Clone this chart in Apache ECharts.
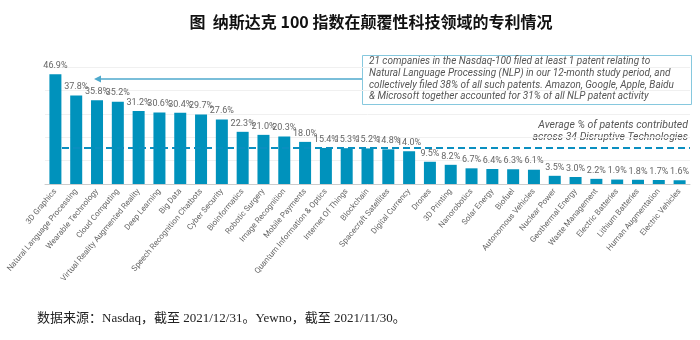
<!DOCTYPE html>
<html><head><meta charset="utf-8">
<script src="https://cdn.jsdelivr.net/npm/echarts@6/dist/echarts.min.js"></script>
<style>html,body{margin:0;padding:0;background:#fff}#c{width:700px;height:340px}</style>
</head><body><div id="c"></div>
<script>
const categories = ["3D Graphics","Natural Language Processing","Wearable Technology","Cloud Computing","Virtual Reality Augmented Reality","Deep Learning","Big Data","Speech Recognition Chatbots","Cyber Security","Bioinformatics","Robotic Surgery","Image Recognition","Mobile Payments","Quantum Information & Optics","Internet Of Things","Blockchain","Spacecraft Satellites","Digital Currency","Drones","3D Printing","Nanorobotics","Solar Energy","Biofuel","Autonomous Vehicles","Nuclear Power","Geothermal Energy","Waste Management","Electric Batteries","Lithium Batteries","Human Augmentation","Electric Vehicles"];
const values = [46.9,37.8,35.8,35.2,31.2,30.6,30.4,29.7,27.6,22.3,21.0,20.3,18.0,15.4,15.3,15.2,14.8,14.0,9.5,8.2,6.7,6.4,6.3,6.1,3.5,3.0,2.2,1.9,1.8,1.7,1.6];
const averageValue = 15.3;
const titleText = "图  纳斯达克 100 指数在颠覆性科技领域的专利情况";
const sourceText = "数据来源：Nasdaq，截至 2021/12/31。Yewno，截至 2021/11/30。";
const noteLines = ["21 companies in the Nasdaq-100 filed at least 1 patent relating to","Natural Language Processing (NLP) in our 12-month study period, and","collectively filed 38% of all such patents. Amazon, Google, Apple, Baidu","& Microsoft together accounted for 31% of all NLP patent activity"];
const avgLines = ["Average % of patents contributed","across 34 Disruptive Technologies"];

const chart = echarts.init(document.getElementById('c'), null, {renderer:'canvas'});
const sans = "Roboto, 'Noto Sans', sans-serif";
chart.setOption({
  animation:false,
  grid:{left:45,right:10,top:67,bottom:156,containLabel:false},
  xAxis:{type:'category',data:categories,
    axisLine:{lineStyle:{color:'#cccccc'}},axisTick:{show:false},
    axisLabel:{interval:0,rotate:50,fontSize:8,color:'#666',fontFamily:sans,margin:6}},
  yAxis:{type:'value',min:0,max:50,interval:10,
    axisLabel:{show:false},axisLine:{show:false},axisTick:{show:false},
    splitLine:{lineStyle:{color:'#f0f0f0'}}},
  series:[{type:'bar',data:values,barWidth:12,
    itemStyle:{color:'#0092bc'},
    label:{show:true,position:'top',distance:4,fontSize:9,color:'#666',fontFamily:sans,formatter:p=>p.value.toFixed(1)+'%'},
    markLine:{silent:true,symbol:'none',label:{show:false},
      lineStyle:{color:'#0a8fc0',type:[7,4],width:2},
      data:[[{x:62,yAxis:averageValue},{x:690,yAxis:averageValue}]]}
  }],
  graphic:[
    {type:'text',x:371,y:14,style:{text:titleText,font:"bold 16px 'Noto Sans CJK SC'",fill:'#111',textAlign:'center'}},
    {type:'rect',shape:{x:362.5,y:55.5,width:329,height:49},style:{fill:'#fff',stroke:'#86c8de',lineWidth:1}},
    {type:'text',x:369,y:56,style:{text:noteLines.join('\n'),font:"italic 10px "+sans,fill:'#555',lineHeight:11.7}},
    {type:'line',shape:{x1:99,y1:79,x2:362,y2:79},style:{stroke:'#4ea9cc',lineWidth:1.5}},
    {type:'polygon',shape:{points:[[94,79],[101,75.5],[101,82.5]]},style:{fill:'#4ea9cc'}},
    {type:'text',x:688,y:119,style:{text:avgLines.join('\n'),font:"italic 10.5px "+sans,fill:'#555',align:'right',lineHeight:12}},
    {type:'text',x:37,y:312,style:{text:sourceText,font:"13px 'Liberation Serif', 'Noto Sans CJK SC'",fill:'#222'}}
  ]
});
</script></body></html>
